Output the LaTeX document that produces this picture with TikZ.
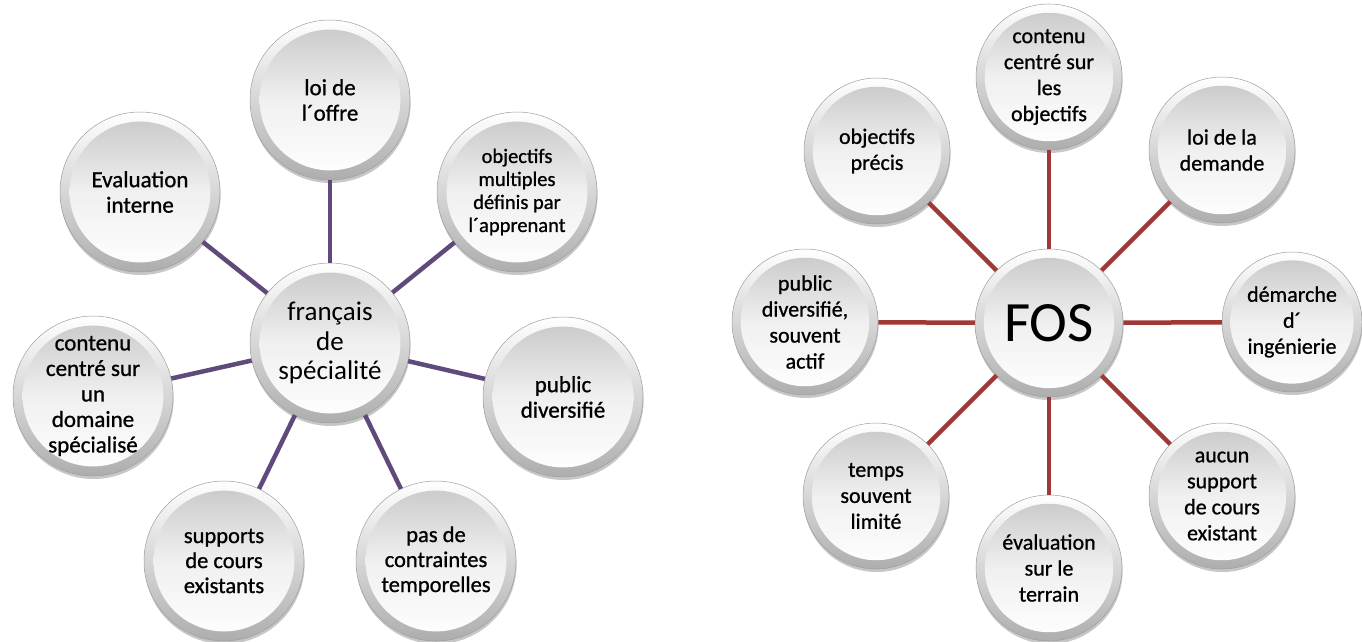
\documentclass[tikz,border=0pt]{standalone}
\usepackage{fontspec}
\setmainfont{Carlito}
\newfontfamily\outerfont[FakeBold=0.9]{Carlito}
\usetikzlibrary{shadows}
\definecolor{lpurple}{RGB}{96,74,123}
\definecolor{rred}{RGB}{160,56,54}
\tikzset{
  ball/.style={circle, minimum size=#1, inner sep=0pt, draw=black!38, line width=0.5pt,
    top color=white, bottom color=black!32,
    drop shadow={shadow xshift=0.6pt, shadow yshift=-3pt, opacity=0.22, fill=black},
    path picture={\shade[top color=black!22, bottom color=white, middle color=black!6]
      (path picture bounding box.center) circle ({0.44*#1});},
    align=center, text=black},
  ltext/.style={font=\outerfont\fontsize{23}{25.5}\selectfont},
  lsmall/.style={font=\outerfont\fontsize{20.5}{23}\selectfont},
  lmid/.style={font=\outerfont\fontsize{22.5}{25}\selectfont},
  ctext/.style={font=\fontsize{27}{29.5}\selectfont},
  rtext/.style={font=\outerfont\fontsize{22}{26}\selectfont},
  fostext/.style={font=\fontsize{57}{62}\selectfont},
  lline/.style={draw=lpurple, line width=4.5pt},
  rline/.style={draw=rred, line width=4.5pt},
}
\begin{document}
\begin{tikzpicture}[x=1pt,y=-1pt]
\useasboundingbox (0,0) rectangle (1362,642);
% left diagram
\node[ball=160pt, ctext] (fs) at (330,343) {français\\de\\spécialité};
\node[ball=160pt, ltext] (l1) at (330,100) {loi de\\l´offre};
\node[ball=160pt, lsmall] (l2) at (517,192) {objectifs\\multiples\\définis par\\l´apprenant};
\node[ball=160pt, ltext] (l3) at (563,397) {public\\diversifié};
\node[ball=160pt, lmid] (l4) at (436,561) {pas de\\contraintes\\temporelles};
\node[ball=160pt, lmid] (l5) at (224,561) {supports\\de cours\\existants};
\node[ball=160pt, ltext] (l6) at (93,396) {contenu\\centré sur\\un\\domaine\\spécialisé};
\node[ball=160pt, ltext] (l7) at (140,192) {Evaluation\\interne};
\foreach \n in {l1,l2,l3,l4,l5,l6,l7} \draw[lline] (fs) -- (\n);
% right diagram
\node[ball=148pt, fostext] (fos) at (1049,323) {FOS};
\node[ball=146pt, rtext] (r1) at (1049,77) {contenu\\centré sur\\les\\objectifs};
\node[ball=146pt, rtext] (r2) at (1222,150) {loi de la\\demande};
\node[ball=140pt, rtext] (r3) at (1292,322) {démarche\\d´\\ingénierie};
\node[ball=146pt, rtext] (r4) at (1222,496) {aucun\\support\\de cours\\existant};
\node[ball=146pt, rtext] (r5) at (1049,568) {évaluation\\sur le\\terrain};
\node[ball=146pt, rtext] (r6) at (876,496) {temps\\souvent\\limité};
\node[ball=146pt, rtext] (r7) at (805,322) {public\\diversifié,\\souvent\\actif};
\node[ball=146pt, rtext] (r8) at (877,151) {objectifs\\précis};
\foreach \n in {r1,r2,r3,r4,r5,r6,r7,r8} \draw[rline] (fos) -- (\n);
\end{tikzpicture}
\end{document}
